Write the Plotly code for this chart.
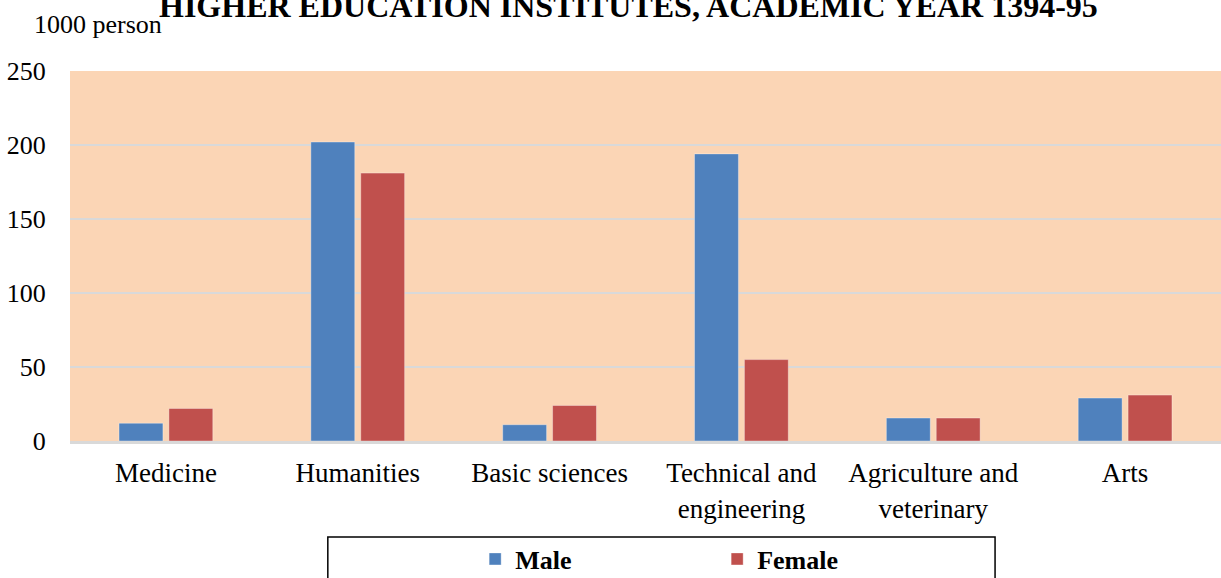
import plotly.graph_objects as go

# ----------------------------------------------------------------------------
#  DATA
# ----------------------------------------------------------------------------
categories = ["Medicine", "Humanities", "Basic sciences",
              "Technical and<br>engineering", "Agriculture and<br>veterinary", "Arts"]
male   = [12, 202, 11, 194, 15.5, 29]
female = [22, 181, 24, 55, 15.5, 31]
series_names = ["Male", "Female"]
y_ticks = [0, 50, 100, 150, 200, 250]

title_text = "HIGHER EDUCATION INSTITUTES, ACADEMIC YEAR 1394-95"
unit_text  = "1000 person"

# ----------------------------------------------------------------------------
#  PLOT
# ----------------------------------------------------------------------------
font_family = "Liberation Serif, Times New Roman, serif"
colors = ["#4F81BD", "#C0504D"]

fig = go.Figure()
for name, vals, col in zip(series_names, [male, female], colors):
    fig.add_trace(go.Bar(x=categories, y=vals, name=name,
                         marker=dict(color=col, line=dict(color="rgba(255,255,255,0.35)", width=1))))

fig.update_layout(
    width=1221, height=578,
    margin=dict(l=70, r=0, t=71, b=137, autoexpand=False),
    paper_bgcolor="white",
    plot_bgcolor="#FBD5B5",
    barmode="group",
    bargap=0.48,
    bargroupgap=0.12,
    font=dict(family=font_family, size=26, color="black"),
    showlegend=True,
    legend=dict(orientation="h", x=0.352, xanchor="left", y=-0.319, yanchor="middle",
                entrywidth=197, entrywidthmode="pixels",
                font=dict(family=font_family, size=26, color="black", weight="bold"),
                bgcolor="rgba(0,0,0,0)", borderwidth=0),
)

fig.update_yaxes(range=[0, 250], tickvals=y_ticks, showgrid=True, gridcolor="#D9D9D9", gridwidth=2,
                 zeroline=False, showline=False, ticks="outside", ticklen=18, tickcolor="rgba(0,0,0,0)",
                 tickfont=dict(size=26), automargin=False)
fig.update_xaxes(showline=True, linecolor="#D9D9D9", linewidth=3, ticks="outside", ticklen=6,
                 tickcolor="rgba(0,0,0,0)", tickfont=dict(size=27), automargin=False)

# unit label and clipped title
fig.add_annotation(text=unit_text, xref="paper", yref="paper", x=-0.033, y=1.125,
                   xanchor="left", yanchor="middle", showarrow=False,
                   font=dict(family=font_family, size=26))
fig.add_annotation(text="<b>" + title_text + "</b>", xref="paper", yref="paper", x=0.485, y=1.176,
                   xanchor="center", yanchor="middle", showarrow=False,
                   font=dict(family=font_family, size=32))

# legend frame
fig.add_shape(type="rect", xref="paper", yref="paper", x0=0.224, x1=0.8037, y0=-0.2595, y1=-0.45,
              line=dict(color="black", width=1.5), fillcolor="rgba(0,0,0,0)")

fig.write_html("out.html", config=dict(displayModeBar=False),
               post_script="document.body.style.margin='0';")
